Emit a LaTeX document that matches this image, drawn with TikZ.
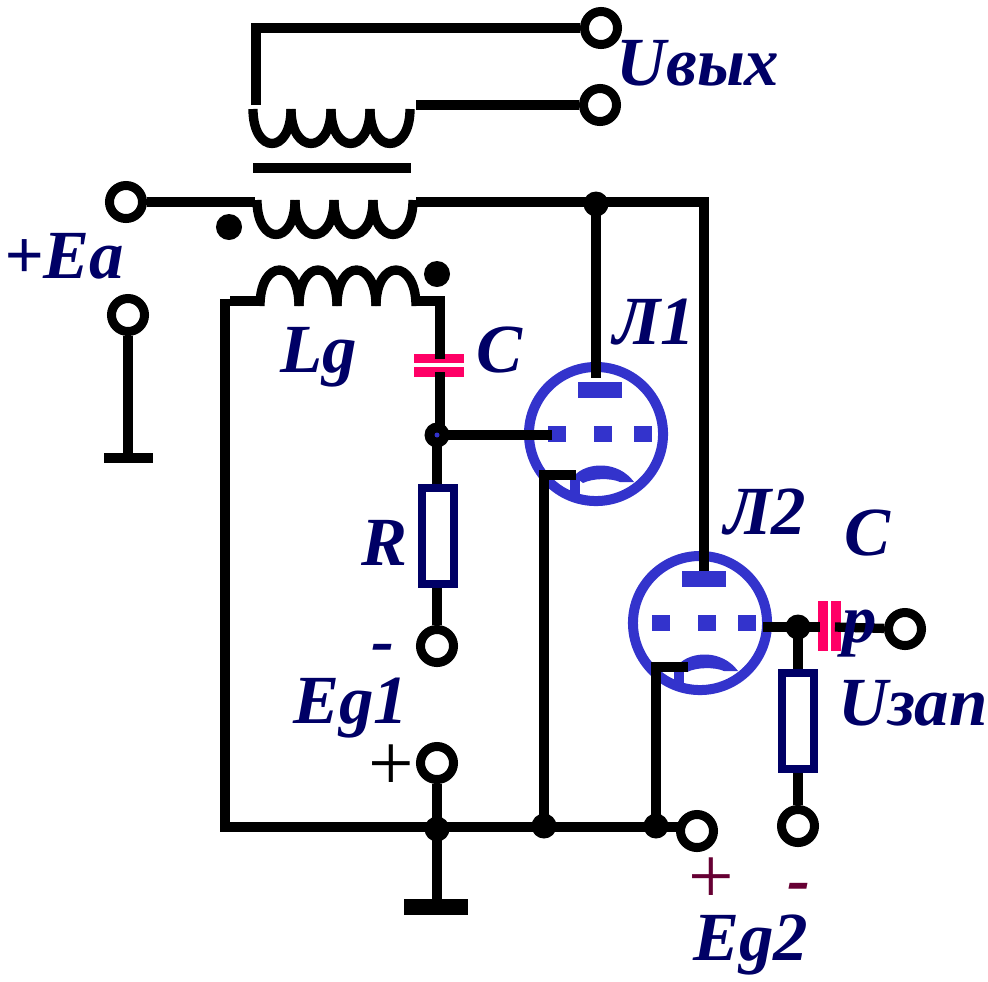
\documentclass[tikz,border=0pt]{standalone}
\usepackage{fontspec}
\setmainfont{Liberation Serif}
\definecolor{labelnavy}{RGB}{0, 0, 102}
\definecolor{tubeblue}{RGB}{51, 51, 204}
\definecolor{capred}{RGB}{255, 0, 102}
\definecolor{signmaroon}{RGB}{102, 0, 51}

\begin{document}
\begin{tikzpicture}[x=0.01cm,y=-0.01cm]

\tikzstyle{wire} = [line width=0.093cm, black]
\tikzstyle{term} = [draw, circle, line width=0.09cm, fill=white, inner sep=0pt, minimum size=0.33cm]
\tikzstyle{junction} = [circle, fill=black, inner sep=0pt, minimum size=0.25cm]
\tikzstyle{dot} = [circle, fill=black, inner sep=0pt, minimum size=0.26cm]
\tikzstyle{annot} = [text=labelnavy, font=\fontsize{19.6}{21}\selectfont\bfseries\itshape, inner sep=0pt]
\tikzstyle{sign} = [font=\fontsize{23}{25}\selectfont, inner sep=0pt]
\tikzstyle{resistor} = [draw=labelnavy, line width=0.08cm, fill=white, inner sep=0pt, minimum width=0.32cm, minimum height=0.95cm]
\tikzstyle{electrode} = [fill=tubeblue, inner sep=0pt]

\useasboundingbox (0,0) rectangle (988,981);

\foreach \n/\cx/\cy in {A/596/434, B/700/623}{
  \node[draw=tubeblue, circle, line width=0.1cm, inner sep=0pt, minimum size=1.34cm] (tube\n) at (\cx,\cy) {};
  \node[electrode, minimum width=0.44cm, minimum height=0.16cm] (anode\n) at (\cx+4,\cy-44) {};
  \node[electrode, minimum width=0.18cm, minimum height=0.16cm] (grid\n) at (\cx-39,\cy) {};
  \node[electrode, minimum width=0.18cm, minimum height=0.16cm] (gridmid\n) at (\cx+6.5,\cy) {};
  \node[electrode, minimum width=0.18cm, minimum height=0.16cm] (gridend\n) at (\cx+46.5,\cy) {};
  \fill[tubeblue] (\cx-22,\cy+42) .. controls (\cx-10,\cy+28) and (\cx+22,\cy+26) .. (\cx+38,\cy+48)
    -- (\cx+24,\cy+48) .. controls (\cx+15,\cy+44) and (\cx-3,\cy+44) .. (\cx-13,\cy+49) -- cycle;
  \fill[tubeblue] (\cx-26,\cy+44) rectangle (\cx-16,\cy+61);
}

\node[term] (outtop) at (601,28) {};
\node[term] (outbot) at (600,105) {};
\node[term] (eaplus) at (126,202) {};
\node[term] (eaminus) at (128,315) {};
\node[term] (gminus) at (437,646) {};
\node[term] (gplus) at (437,763) {};
\node[term] (gtwoplus) at (697,831) {};
\node[term] (zapminus) at (798,826) {};
\node[term] (pulse) at (905,629) {};

\node[junction] (jplate) at (596,204) {};
\node[junction] (jgrid) at (437,435) {};
\node[junction] (jout) at (798,627) {};
\node[junction] (jgnd) at (437,829) {};
\node[junction] (jcatha) at (544,826) {};
\node[junction] (jcathb) at (656,826) {};
\node[dot] (dotprim) at (229,227) {};
\node[dot] (dotgrid) at (437,274) {};

\coordinate (topcorner) at (256,28);
\coordinate (topend) at (256,105);
\coordinate (secend) at (416,105);
\coordinate (primleft) at (255,202);
\coordinate (primright) at (416,202);
\coordinate (platecorner) at (704,202);
\coordinate (gridleft) at (262,301);
\coordinate (gridstub) at (230,301);
\coordinate (gridright) at (413,301);
\coordinate (gridcorner) at (440,301);
\coordinate (captop) at (440,359);
\coordinate (capbot) at (440,372);
\coordinate (capjoin) at (440,435);
\coordinate (busleft) at (225,827);
\coordinate (bustop) at (225,299);
\coordinate (cathacorner) at (544,475);
\coordinate (cathaend) at (576,475);
\coordinate (cathbcorner) at (656,667);
\coordinate (cathbend) at (688,667);
\coordinate (anodeawire) at (596,378);
\coordinate (anodebwire) at (704,571);
\coordinate (gridawire) at (552,435);
\coordinate (tubeout) at (763,627);
\coordinate (capleft) at (820,627);
\coordinate (capright) at (835,627);
\coordinate (gndbotl) at (404,907);
\coordinate (gndbotr) at (468,907);
\coordinate (gndtop) at (437,905);
\coordinate (gndleft) at (104,458);
\coordinate (gndright) at (153,458);
\coordinate (gndstem) at (128,458);
\coordinate (busright) at (684,827);

\draw[line width=0.095cm, capred] (414,358.5) -- (464,358.5);
\draw[line width=0.095cm, capred] (414,372) -- (464,372);
\draw[line width=0.1cm, capred] (823,601) -- (823,651);
\draw[line width=0.1cm, capred] (836,601) -- (836,651);

\draw[wire] (topend) -- (topcorner) -- (outtop);
\draw[wire] (secend) -- (outbot);
\draw[wire] (253,168) -- (411,168);

\foreach \xa/\xb in {253/291, 291/331, 331/370, 370/410}{
  \draw[wire] (\xa,109) .. controls (\xa,155) and (\xb,155) .. (\xb,109);
}
\foreach \xa/\xb in {257/295, 295/334, 334/373, 373/413}{
  \draw[wire] (\xa,200) .. controls (\xa,246) and (\xb,246) .. (\xb,200);
}
\foreach \xa/\xb in {260/299, 299/337, 337/376, 376/416}{
  \draw[wire] (\xa,306) .. controls (\xa,258) and (\xb,258) .. (\xb,306);
}

\draw[wire] (eaplus) -- (primleft);
\draw[wire] (primright) -- (platecorner) -- (anodebwire);
\draw[wire] (jplate.center) -- (anodeawire);
\draw[wire] (gridstub) -- (gridleft);
\draw[wire] (gridright) -- (gridcorner) -- (captop);
\draw[wire] (capbot) -- (capjoin);
\draw[wire] (jgrid.center) -- (gminus);
\draw[wire] (jgrid.center) -- (gridawire);
\draw[wire] (bustop) -- (busleft) -- (busright);
\draw[wire] (jcatha.center) -- (cathacorner) -- (cathaend);
\draw[wire] (jcathb.center) -- (cathbcorner) -- (cathbend);
\draw[wire] (gplus) -- (jgnd.center);
\draw[wire] (jgnd.center) -- (gndtop);
\draw[line width=0.16cm] (gndbotl) -- (gndbotr);
\draw[wire] (eaminus) -- (gndstem);
\draw[wire] (gndleft) -- (gndright);
\draw[wire] (tubeout) -- (capleft);
\draw[wire] (capright) -- (pulse);
\draw[wire] (jout.center) -- (zapminus);

\node[circle, fill=tubeblue, inner sep=0pt, minimum size=0.05cm] (jgridmark) at (jgrid) {};

\node[resistor] (rgrid) at (438,536) {};
\node[resistor] (rout) at (798,721) {};

\node[annot] (lbluout) at (698,63) {Uвых};
\node[annot] (lblea) at (64,256) {+Ea};
\node[annot] (lbllone) at (654,322) {Л1};
\node[annot] (lbllg) at (319,357) {Lg};
\node[annot] (lblc) at (499,350) {C};
\node[annot] (lblr) at (384,543) {R};
\node[annot] (lblminus) at (383,654) {-};
\node[annot] (lblegone) at (351,708) {Eg1};
\node[sign] (lblplus) at (391,768) {+};
\node[annot] (lblltwo) at (765,512) {Л2};
\node[annot] (lblcp) at (867,533) {C};
\node[annot] (lblp) at (860,634) {p};
\node[annot] (lbluzap) at (913,703) {Uзап};
\node[sign, text=signmaroon] (lblplustwo) at (711,881) {+};
\node[annot, text=signmaroon] (lblminustwo) at (799,893) {-};
\node[annot] (lblegtwo) at (751,945) {Eg2};

\end{tikzpicture}
\end{document}
